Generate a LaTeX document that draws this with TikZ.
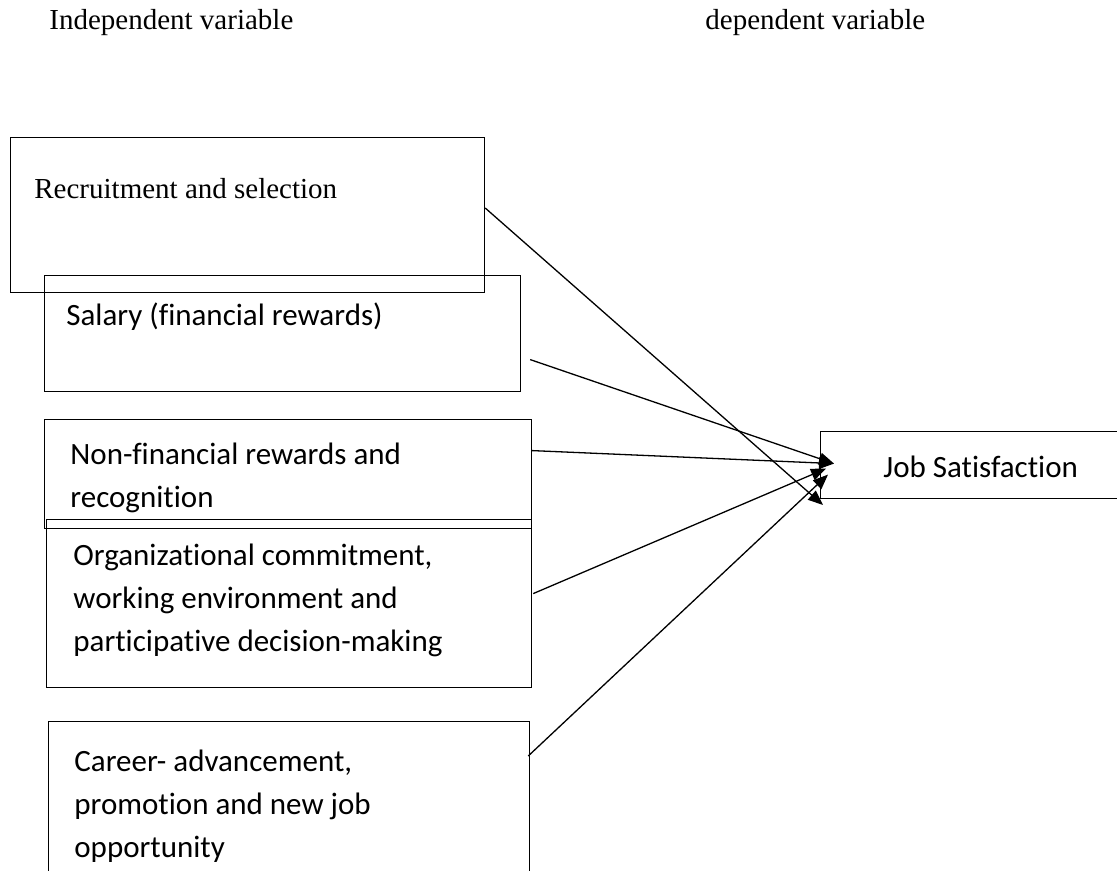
\documentclass[tikz,border=0pt]{standalone}
\usepackage{fontspec}
\setmainfont{Liberation Serif}
\newfontfamily\calib[Ligatures=CommonOff]{Carlito}
\usetikzlibrary{arrows.meta}

\begin{document}
\begin{tikzpicture}[x=0.5pt,y=-0.5pt,>={Triangle[length=7.5pt,width=6pt]}]
\tikzset{box/.style={draw,line width=0.6pt,rectangle,anchor=north west,inner sep=0pt},
lab/.style={anchor=west,inner sep=0pt,font=\fontsize{14.5}{17}\selectfont},
ctxt/.style={anchor=west,inner sep=0pt,align=left,font=\calib\fontsize{15.5}{21.5}\selectfont},
link/.style={->,line width=0.65pt}}
\useasboundingbox(0,0)rectangle(1117,871);
% headings
\node[lab](indep)at(49,23){Independent variable};
\node[lab](dep)at(705,23){dependent variable};
% boxes
\node[box,minimum width=237pt,minimum height=77.5pt](rec)at(10,137){};
\node[box,minimum width=238pt,minimum height=58pt](sal)at(44,275){};
\node[box,minimum width=243.5pt,minimum height=54.5pt](non)at(44,419){};
\node[box,minimum width=242.5pt,minimum height=84pt](org)at(46,519){};
\node[box,minimum width=240.5pt,minimum height=89.5pt](car)at(48,721){};
\node[box,minimum width=160pt,minimum height=33.5pt](job)at(820,431){};
% texts
\node[lab](rect)at(34,189){Recruitment and selection};
\node[ctxt](salt)at(66,317){Salary (financial rewards)};
\node[ctxt](nont)at(70,478){Non-financial rewards and\\recognition};
\node[ctxt](orgt)at(73,600){Organizational commitment,\\working environment and\\participative decision-making};
\node[ctxt](cart)at(74,806){Career- advancement,\\promotion and new job\\opportunity};
\node[ctxt](jobt)at(883,467){Job Satisfaction};
% arrows
\draw[link]([yshift=-35.5pt]rec.north east)--([xshift=1.5pt,yshift=-37pt]job.north west);
\draw[link]([xshift=4.5pt,yshift=-13pt]sal.east)--([xshift=7pt,yshift=0.75pt]job.west);
\draw[link]([yshift=11.75pt]non.east)--([xshift=7pt,yshift=0.75pt]job.west);
\draw[link]([xshift=0.5pt,yshift=5pt]org.east)--([xshift=3pt,yshift=-1.75pt]job.west);
\draw[link]([xshift=-1pt,yshift=-17.5pt]car.north east)--([xshift=4pt,yshift=-4.75pt]job.west);
\end{tikzpicture}
\end{document}
